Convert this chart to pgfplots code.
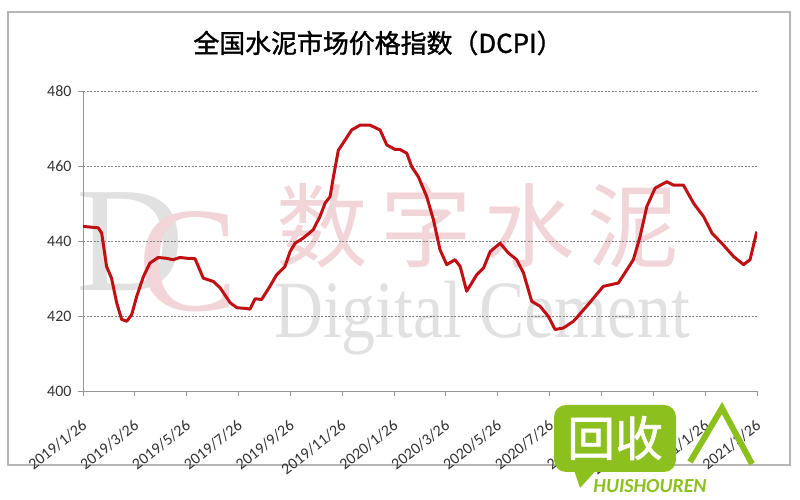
\documentclass[border=0pt]{standalone}
\usepackage{pgfplots}
\pgfplotsset{compat=1.18}
\usepackage{fontspec}
\setmainfont{Carlito}
\newfontfamily\cjk{Noto Sans CJK SC}
\newfontfamily\cjkb[FakeBold=1.3]{Noto Sans CJK SC}
\newfontfamily\wmserif{Liberation Serif}
\definecolor{dcpired}{RGB}{192,16,20}
\definecolor{gridgray}{RGB}{130,130,130}
\definecolor{axgray}{RGB}{150,150,150}
\definecolor{wmpink}{RGB}{242,213,216}
\definecolor{wmgray}{RGB}{225,225,225}
\definecolor{logogreen}{RGB}{140,192,30}
\begin{document}
\begin{tikzpicture}[x=1bp,y=1bp]
\fill[white] (0,0) rectangle (800,500);
\draw[axgray!70, line width=1.2bp] (8,35) rectangle (790,488);
% watermark
\node[text=wmgray, font=\wmserif\fontsize{150}{150}\selectfont] at (130,258) {D};
\node[text=wmpink, font=\wmserif\fontsize{150}{150}\selectfont] at (188,238) {C};
\node[text=wmpink, font=\cjk\fontsize{92}{92}\selectfont] at (478,275) {数\hspace{12bp}字\hspace{12bp}水\hspace{12bp}泥};
\node[text=wmgray, font=\wmserif\fontsize{68}{68}\selectfont, yscale=1.2, transform shape] at (482,182) {Digital Cement};
% title
\node[font=\cjkb\fontsize{26}{26}\selectfont] at (378,457) {全国水泥市场价格指数（DCPI）};
\begin{axis}[
    at={(83bp,109bp)}, anchor=south west,
    scale only axis, width=674bp, height=300bp,
    xmin=0, xmax=26, ymin=400, ymax=480,
    ytick={400,420,...,480},
    xtick={0,2,...,26},
    xticklabels={2019/1/26,2019/3/26,2019/5/26,2019/7/26,2019/9/26,2019/11/26,2020/1/26,2020/3/26,2020/5/26,2020/7/26,2020/9/26,2020/11/26,2021/1/26,2021/3/26},
    axis x line*=bottom, axis y line*=left,
    axis line style={axgray, line width=0.9bp},
    tick style={axgray, line width=0.9bp},
    tick align=outside, major tick length=5bp,
    ymajorgrids, grid style={gridgray, dash pattern=on 2bp off 1.5bp, line width=0.6bp},
    /pgf/number format/assume math mode=true,
    tick label style={font=\fontsize{16}{16}\selectfont, text=black!80},
    x tick label style={xshift=-2bp, yshift=-23bp, rotate=38, anchor=north east, inner sep=0bp},
    y tick label style={xshift=-3bp},
]
\addplot[dcpired, line width=3bp, line join=round] coordinates {
(0,443.9) (0.59,443.5) (0.72,442.1) (0.91,433.2) (1.1,430.1) (1.3,423.5)
(1.49,419.1) (1.69,418.6) (1.88,420.4) (2.07,425.2) (2.33,430.5) (2.58,434.1)
(2.9,435.6) (3.2,435.4) (3.48,435.0) (3.74,435.6) (4.0,435.4) (4.32,435.3)
(4.64,430.1) (5.03,429.2) (5.29,427.5) (5.68,423.5) (5.94,422.2) (6.32,422.0)
(6.44,421.8) (6.64,424.6) (6.89,424.4) (7.21,427.9) (7.47,431.0) (7.79,433.2)
(7.99,437.2) (8.18,439.4) (8.5,440.8) (8.88,443.0) (9.14,446.5) (9.34,450.1)
(9.53,451.8) (9.66,457.1) (9.85,464.2) (10.11,466.9) (10.36,469.6) (10.69,470.9)
(11.07,470.9) (11.46,469.6) (11.72,465.6) (12.04,464.4) (12.23,464.4) (12.49,463.4)
(12.68,459.8) (12.94,457.1) (13.26,451.8) (13.52,445.6) (13.77,437.7) (14.03,433.7)
(14.35,435.0) (14.55,433.2) (14.8,426.6) (15.19,431.0) (15.45,432.8) (15.71,437.2)
(16.09,439.4) (16.41,436.8) (16.73,435.0) (16.99,431.5) (17.31,423.9) (17.63,422.6)
(17.95,419.9) (18.21,416.4) (18.53,416.8) (18.92,418.6) (19.43,422.6) (20.07,427.9)
(20.65,428.8) (20.98,432.3) (21.23,435.0) (21.49,441.2) (21.75,449.2) (22.07,454.1)
(22.52,455.8) (22.78,454.9) (23.16,454.9) (23.55,450.1) (23.94,446.5) (24.26,442.1)
(24.64,439.4) (25.09,435.9) (25.48,433.7) (25.73,435.0) (25.99,442.5)
};
\end{axis}
% site logo overlay
\fill[logogreen, rounded corners=12bp] (554,28) rectangle (676,95);
\fill[logogreen] (572,36) -- (580,12) -- (600,34) -- cycle;
\node[text=white, font=\cjkb\fontsize{48}{48}\selectfont] at (615,62) {回收};
\draw[logogreen, line width=6bp, line join=miter] (690,38) -- (722,92) -- (752,36);
\node[text=logogreen, font=\fontsize{20}{20}\selectfont\bfseries\itshape] at (650,14) {HUISHOUREN};
\end{tikzpicture}
\end{document}
